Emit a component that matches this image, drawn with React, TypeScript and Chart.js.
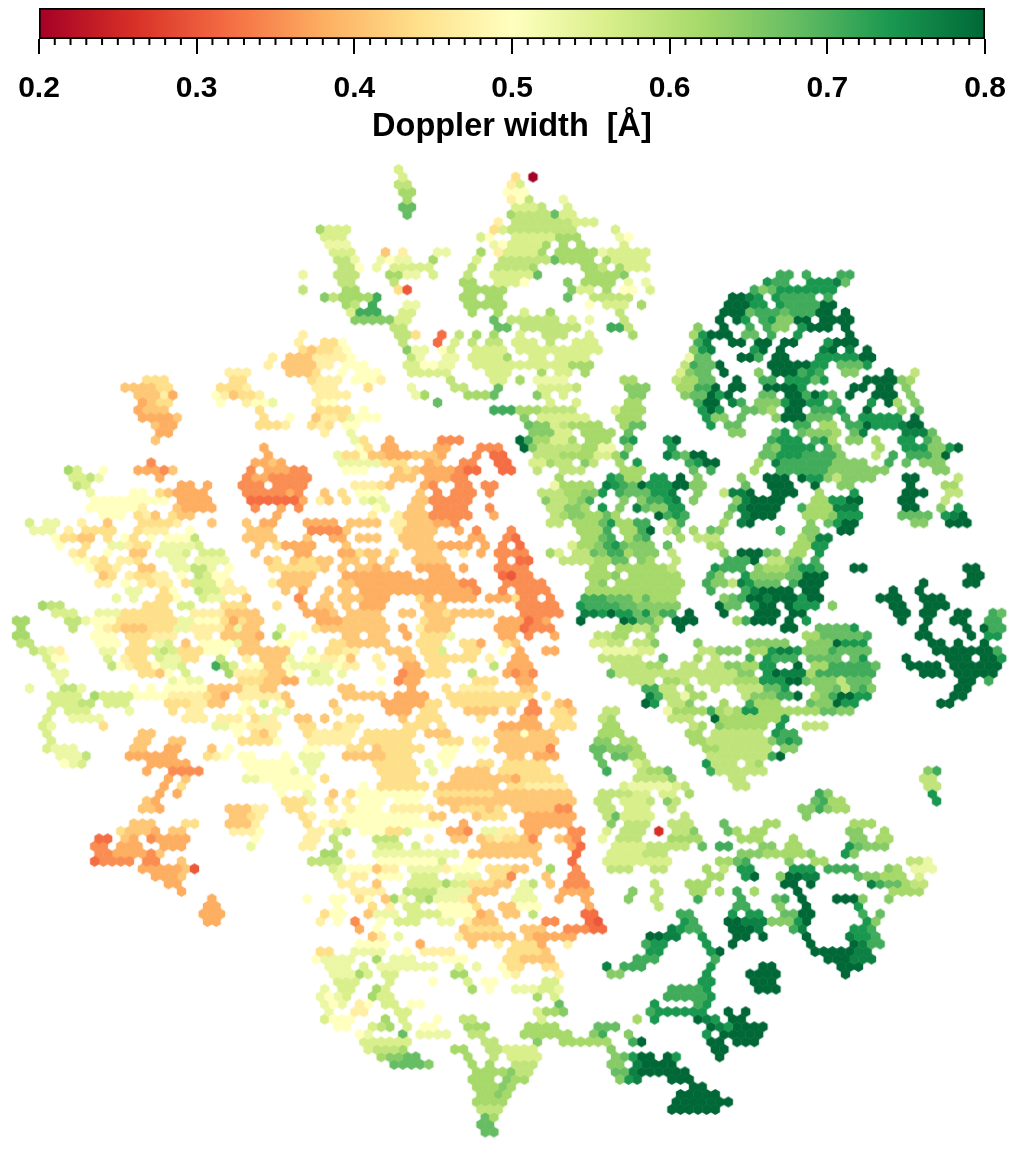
import React, { useEffect, useRef } from "react";
import { Chart, registerables } from "chart.js";

Chart.register(...registerables);

// Colour bar
const barLabel = ["Doppler width"];
const barRange: [number, number] = [0.2, 0.8];
const axisTitle = "Doppler width  [Å]";
const minorTickValues = [
  0.21, 0.22, 0.23, 0.24, 0.25, 0.26, 0.27, 0.28, 0.29, 0.31, 0.32, 0.33, 0.34, 0.35, 0.36, 0.37, 0.38, 0.39,
  0.41, 0.42, 0.43, 0.44, 0.45, 0.46, 0.47, 0.48, 0.49, 0.51, 0.52, 0.53, 0.54, 0.55, 0.56, 0.57, 0.58, 0.59,
  0.61, 0.62, 0.63, 0.64, 0.65, 0.66, 0.67, 0.68, 0.69, 0.71, 0.72, 0.73, 0.74, 0.75, 0.76, 0.77, 0.78, 0.79,
];
const colourStops = ["#a50026", "#d73027", "#f46d43", "#fdae61", "#fee08b", "#ffffbf", "#d9ef8b", "#a6d96a", "#66bd63", "#1a9850", "#006837"];

// Doppler width of each letter used in the cell rows below
const levelCodes = "abcdefghijklmnopqrst".split("");
const levelValues = [0.2, 0.26, 0.3, 0.32, 0.35, 0.38, 0.41, 0.44, 0.47, 0.5, 0.53, 0.56, 0.59, 0.62, 0.65, 0.68, 0.71, 0.74, 0.77, 0.8];

// Each entry: "row: col[-col]level ..." on the hexagonal bin grid
const topCells = [
  "-1: 44l", "0: 45l 58h 60a", "1: 44-45m 57i 58l", "2: 45-46n 57-59j", "3: 45n 57i 58j 59m 63k",
  "4: 45-46p 58-60l 61m 64l", "5: 45p 57n 58-61m 62p 63-64l", "6: 56i 58-64m 65-67l",
  "7: 35n 36-38l 55h 56l 57-64m 69l", "8: 36-38l 54l 55j 58-62l 63-65n 70k 71j",
  "9: 36-38k 55k 56j 57-60l 61n 63n 65n 70l", "10: 37-39l 43g 45i 49-50k 54n 56i 57-60l 61n 63-65n 66-67n 68k 69-73l",
  "11: 37-38m 39k 42k 43j 44-45k 48n 53l 56-61m 62p 63-66n 68n 69-72l",
  "12: 38-39m 40j 42k 44-46l 47-48l 53m 56-59m 60n 66-67n 68m 70n 71-73l",
  "13: 33k 37-39m 43-44n 45-46k 48l 52m 55l 56-59l 60p 66-69n 70o",
  "14: 38-39m 44m 52-53n 56-58l 59j 64o 66-69n 71k 73k",
  "15: 33m 38-39n 44h 45c 52n 53-56n 64o 65-66l 68n 70-71j 73l",
  "16: 36o 37m 38-41n 42q 52-53n 55-56n 64p 67-71m", "17: 38n 39m 41q 45-46k 52-56n 66j 68-70l 72n",
  "18: 39l 40-42q 45-46l 53n 56n 59l 62n 70m", "19: 39-43o 44-45l 55p 57-62m 64l 66k 70m",
  "20: 44-45m 56-57p 59-65m 69-70q 71m", "21: 33i 44-45m 46h 49d 51m 53n 55n 58l 61-63m 66l 71n",
  "22: 33h 36-37h 38j 45m 49d 51l 53m 55-56m 58-60l 62m 65-67l",
  "23: 33-34g 36-37h 38j 45o 46-47k 49j 50l 53-56l 58-61l 62-67l",
  "24: 33-34g 35i 38-39j 46m 47k 50-51k 53-56l 57n 60-61l 63-66l",
  "25: 33-35g 36i 38-40j 45-46l 47-48j 49-50k 53-58l 59-61l 62-63l 64-66n",
  "26: 33-35g 38j 40-42j 46-50l 55-57l 61n 63-64l 66n", "27: 34h 36-37i 39-41j 42i 50m 55-56l 58n 60-63k 70-71n",
  "28: 36-37h 41h 46k 51-52m 56p 61-64l 65m 71-73o", "29: 36-38i 46k 47n 52-54n 55p 60o 61l 63l 71-72o",
  "30: 35-37h 49p 62l 65l 71-72n", "31: 36-38h 40j 55-57q 58-60n 61-64m 69l 70-72n",
  "32: 35g 36-38h 39k 40j 41-42j 59o 61-66l 70-72n", "33: 36h 38-39j 59p 60-61o 62l 63m 64-67n 70n 71-72p",
  "34: 36i 39k 60-62o 63-64l 66-69n 71p", "35: 39k 40h 43f 49-51e 58t 59q 60-61n 62-63l 64n 66-68n 70q 71r",
  "36: 40j 41h 43-44f 49-50f 54e 55-56e 59t 60o 61-65m 66-67n 68-69k 71o",
  "37: 37k 38-39h 40j 41-42g 43-45f 46-47g 48g 49f 53e 55-56d 60-62m 63-66n 67-68l 69n 70q",
  "38: 38-42k 43-45h 48f 49g 52-53e 56-57d 60-61l 62n 63-64m 66o 67m 70n 72r",
];

const upperRightCells = [
  "13: 88-89q 91q 95-96q", "14: 87r 88-89q 92-94r 95s 96p", "15: 85q 86o 87p 88-94r",
  "16: 83-84t 85s 86r 88r 89-92q 94q", "17: 82-84t 85-86r 88r 89-92q 93-94t",
  "18: 82-84t 85p 86-88q 89p 90-92q 93-94t 96t", "19: 81t 83t 84r 86q 87r 88-89o 90-91t 93-96t",
  "20: 79o 82t 85q 87q 88-89o 91r 92-94t 96t", "21: 78n 79r 80-82t 84-85p 87q 90r 96t",
  "22: 79q 80s 83-84t 86-87t 89-90t 94r 95-97t", "23: 78o 79r 80s 85r 86t 88t 93s 94t 96s 98t",
  "24: 78k 79-80p 84-85t 86q 88-89t 93-97r 98-99t", "25: 77m 78q 79-80p 81t 87-91t 92-93r 95-97p 98r",
  "26: 77l 78o 79-80p 82t 86o 88-90t 91q 92r 93q 96-97o 101t 104m",
  "27: 76m 77-78n 79-80p 83t 86-87q 89-91r 92p 93r 98-101t 102o 103n",
  "28: 77-78n 79-80q 81t 83-84t 87-90t 91r 97-98t 100-101t 103o",
  "29: 77o 78-79p 80t 81r 82t 86-87p 89-90t 91q 92t 93r 94p 96t 99-101t 103o",
  "30: 79q 80-81t 83s 84q 86-88o 89r 90-91t 92-93r 95q 99r 101t 102n 104o",
  "31: 79r 80t 81r 84-85p 86o 87n 89-90t 92-94q 95r 98t 102o 104p",
  "32: 80r 81-82o 84p 88o 89-91t 92-94p 96q 98-102r 104t",
  "33: 80r 82-83p 90-91q 93-94n 96-97q 98t 99-101r 102s 103-104t",
  "34: 83-84o 88p 89r 91p 92-94o 95n 97p 98s 103-105s 106p",
  "35: 75r 76t 87q 88-90r 92q 93r 94n 96-97o 99n 102-103r 105q 106o",
  "36: 76r 87p 88o 89-92r 94q 95o 100n 103-105r 106-107o 108r 109t",
  "37: 75s 76q 77p 78-79t 86-87p 88-90r 91q 92-94q 95o 99m 101q 103-105q 106o 107t",
  "38: 78q 79r 80-81t 86n 88s 89-94q 95-98o 101q 103p 105-107o",
  "39: 60m 63-65m 70-72n 78p 80q 85n 88-94q 94-100o 106-107o",
  "40: 63n 69r 70q 71-72n 74-75r 77t 79o 84o 87-89t 91t 92-93r 94o 95m 96-99o 103-104t 109m",
  "41: 62k 63-65n 66n 68s 69r 70q 71p 72t 73-74r 75r 76-77t 78-79o 84p 87-89t 92t 95-96o 103t 107-108n",
  "42: 61m 62-63m 64-65n 66-67o 68r 70q 71-73p 74-75r 76s 79o 82m 83-84s 85t 88-90t 93n 97r 103-105t 108-109m",
  "43: 61o 62-63m 64n 65o 66q 70o 72o 73-74q 75r 76s 78o 83o 84s 85-88t 92-93n 94-95r 96-97t 102-103t 107m",
  "44: 62-63m 64-65o 66n 68r 70o 72s 73p 74o 75o 76r 77r 83p 84s 85-88t 91q 92-94n 95-97s 103-104t 107o 109r",
  "45: 62m 63n 64-65o 66n 67n 68p 69n 74t 75q 76r 77q 82o 84s 85-87t 91-93n 94o 95-97r 102-105p 107r 108s 109t",
  "46: 62-63m 65n 66-67n 68p 69r 70-71n 72-73q 76n 77q 82n 84s 85t 92o 94p 95r 96-97t 104-105o 108-110t",
  "47: 65-67n 68q 70-71n 72q 73t 75m 76o 78n 80p 81o 88q 91-92o 95-96t",
  "48: 66-67n 68p 69q 71n 72p 73q 77n 79-81m 91n 92o 93-94s",
  "49: 64l 65-66n 67o 68q 69r 70p 71-73o 75p 80-81n 90-91n 92-93r",
  "50: 62n 63l 65-66m 67p 68o 69-70q 71n 72-74o 76m 82o 84-86t 87p 88o 90-91n 93r",
  "51: 63-66m 67-68n 69-70p 72o 73n 76m 82-84q 85t 87-88m 89o 90p 92q",
  "52: 67-68n 70n 71-76n 76m 81r 82-84q 86o 87-89n 90p 91-92r 93q 97-98t 110-111t",
  "53: 66-68n 69o 71-76n 80q 81o 84r 85-88o 89-90p 91-93t 111t",
  "54: 67n 68o 70-77n 80q 81-82o 83m 84s 85r 86-88p 90q 91-93t 105s 110t",
];

const middleRightCells = [
  "52: 110-111t", "53: 110t", "54: 105t 111t", "55: 66-70n 71-76n 80q 84q 85s 86-87t 88-89t 91-92t 101t 104t",
  "56: 66-68q 69-71p 72n 73p 74-76n 82o 83p 84q 85-86t 87s 88-89t 90t 91r 92-93t 100-102t 105-107t",
  "57: 65r 66-68q 69q 70-71p 72-73o 74-76o 81t 82-83p 85r 86-87t 89t 90-92r 94o 101-102t 105-107t",
  "58: 66-67s 68r 69t 70-71r 72p 73r 74o 75-76q 78t 82t 86-88t 90-91t 102-103t 105-106t 109-110t 113q 114p",
  "59: 65t 70t 71s 72-73p 74n 76-78t 83n 84q 85-87t 89t 91r 102t 105t 108-109t 112-113q",
  "60: 70n 71q 71-73n 72-73m 74o 77t 89-90t 93-96p 97r 105t 110t 112t 113-114q",
  "61: 67-70m 73n 69-70n 73n 91-92n 93-97p 98q 104-105t 110t 112-113r",
  "62: 67-68l 69-70m 72-73m 74o 79o 85o 86-89o 92-94o 95t 96-98r 106-107t 109t 112t",
  "63: 68-71k 72-73l 79-80m 81-83o 85-86n 87r 88-89s 90r 91-93o 94q 95-98p 106-107t 108-110t 111-112t 113q",
  "64: 68m 69-72m 75p 79n 81m 85q 87r 88-90q 92-95p 97p 98r 103t 108-110t 112-113t 114r",
  "65: 69-72m 73-74n 77-78m 80-81m 82-83o 84-85n 86-87r 90t 92-93n 94-98q 99p 103-106t 108-113t",
  "66: 69p 70-73m 74m 75-83m 84-85o 87r 88t 89-91s 92n 93-98q 99q 105-107t 109-113t",
  "67: 71-73m 75-76n 77m 79-82m 83-86n 86-88r 89-90t 91p 92-94o 95m 96-98p 109-110t 112q",
  "68: 73-74q 75-76m 78n 81m 84-86m 87-88p 89r 93-94o 95p 96m 97p 98q 99o 109-110t",
  "69: 73s 74q 75-76m 77k 78-79n 84m 85-88o 88-89q 90t 92n 93o 94q 95-96t 97-98r 108-109t",
  "70: 73t 74r 76m 77m 78o 82n 85q 86-88n 92p 93-94o 95t 96-97r 107-108t",
  "71: 75k 76-78n 79n 80q 81n 82m 83n 84-85r 86-88n 89-91n 92n 93-94p 95-96o",
  "72: 76m 77-78m 81t 82-86n 87-88n 89r", "73: 78m 79n 81o 82-86n 88r 91-93m",
  "74: 78-79n 81-86m 88r 89-90q", "75: 78-79n 80-86m 87o 88q 89r 90q", "76: 80-81n 82-87m 89-90o",
  "77: 80-86m 87q 88t", "78: 80r 81-83m 85m 86n", "79: 80q 81-86m 105o 106q", "80: 83-84m 105-106m",
];

const greenLowerCells = [
  "71: 68-69m", "72: 68m 69n", "73: 68-69n", "74: 68-69n 70n", "75: 67-68o 70-71n", "76: 67-68p 69-71o 72n",
  "77: 67p 69-70p 71-72n", "78: 68p 72l 73m", "79: 68q 72m 73-74n 75p", "80: 72-75m 76o",
  "81: 70-76l 71-75k 77m 83-84m 105-106m", "82: 68-69m 70-71m 72-73l 75-76l 68m 78n 93q 94o 106r",
  "83: 67-68m 70-72l 73m 75o 76m 92p 93q 94-95n 106r", "84: 68-69m 71-73l 76m 91-92o 93q 94o 95-96n",
  "85: 68m 69p 70-73l 77m 91o", "86: 69o 71-73m 76m 77-78m 82p 87-88n 97-99n",
  "87: 68l 70-72m 74b 76-77m 78o 82p 83n 85-86n 96-97o 100n",
  "88: 68k 70-72m 76-79n 84-85n 86n 90n 97-98o 100-101n",
  "89: 69-72l 73-74m 75-77m 79p 81-82q 86-87o 89-90n 96r 97p 98-100o",
  "90: 69-72l 73-75m 84-86o 87n 88-91n 92o 96r 97o", "91: 68-75l 81-82n 83p 84q 89o 92-93n 103m 104m 105k",
  "92: 69-71m 74-75m 80n 82m 84-85r 90-92r 94-97q 101o 102n 104-106k",
  "93: 80-81n 84r 85t 88o 89-90t 91-92s 97p 98-99o 100-101n 102n 104l",
  "94: 74m 78n 79-80n 89-90t 92t 99s 100q 101-102p 103n 104-105m", "95: 71o 74m 78-79n 81n 83q 85n 90t 101-104n",
  "96: 71o 74m 79q 84q 88p 89q 91t 95-97t 98o 101o", "97: 74m 83-84q 88o 91t 97r",
  "98: 77-78q 83r 85-86r 89-90p 91-92t 98q 100p", "99: 77r 78q 82-83t 84-86s 87-89o 90r 91t 98r 99o",
  "100: 76s 77r 78-79q 83-85t 86s 90q 91s 97-98r 99q", "101: 73-74t 75-76s 79r 83-84t 86t 91t 96s 97-98r 99q",
  "102: 73q 74-75r 80r 83t 92t 97t 98s 99-100q", "103: 73-74r 80r 81t 92-96t 97-98s",
  "104: 72-74q 81q 94-96t 97-99s", "105: 68s 70-72q 80r 86-87t 95-97t", "106: 69-70o 80r 85-88t 96t",
  "107: 79-80r 85-87t", "108: 76-79q 80r 86-88t", "109: 75-79q 80r", "110: 74r 79q 80r",
  "111: 73q 74-79r 82t 84t", "112: 72n 74r 79t 80s 81r 83-84t", "113: 67-69o 80t 81s 82r 83-86t",
  "114: 67-68n 71o 80r 82-86t", "115: 67-68m 71q 72t 80-81t 83-85t", "116: 69o 81-82t", "117: 69o 70p 71r 72-73t 75t 76r 81t",
  "118: 69-70o 72s 73-76t", "119: 69-70p 71s 72-77t", "120: 70o 71r 72s 76-78t", "121: 78-79t",
  "122: 77-81t", "123: 76-82t", "124: 76-81t",
];

const leftUpperCells = [
  "22: 33i", "23: 33h 35-36h 37i", "24: 30i 32-34g 36-38i", "25: 29i 31-34g 35i", "26: 25-27i 32-34g 35h",
  "27: 15-17h 25-26h 34h 35i", "28: 13-14g 15g 16g 17-18h 24-26h 27i 35i 36-37i",
  "29: 14-16g 17i 18f 23j 24i 25g 26-27h 28i 35-37i", "30: 15f 16g 17-18h 24j 27i 28-29j 30k 35i 36-37j",
  "31: 14f 15-17g 28h 35-37h", "32: 15f 16-18f 19g 29h 32j 36-37i", "33: 16g 17-18f 28-30h 31i 34h 35i",
  "34: 17-18f 36i", "35: 16g", "36: 29f", "37: 29f 37k", "38: 16e 28-29f 30g 31f 38k",
  "39: 6n 7l 10j 14-16f 17e 18g 27e 29-31f 32-33e", "40: 7-8l 9m 10k 17f 27e 28-29f 30-34e",
  "41: 7m 8l 19-20f 22f 26-28e 30-32e 33e", "42: 9k 14-15j 17h 18g 19-22f 27-31e 32f 33e 36g",
  "43: 9-17j 19-22f 27-32d 33f 35i 36g", "44: 9j 10-13j 14j 15i 19g 20-23f 28e 31f 33e",
  "45: 10-12j 14h 15i 16g 18h 19-20g 30f", "46: 2l 4-5k 8i 11g 15-18h 19i 23g 27g 29-30f 34-37f",
  "47: 2-4k 6i 8-11h 14h 15-16i 17i 20j 27-29g 34-37e", "48: 5j 6-7h 8-9g 11h 13j 14h 16j 18-20j 21m 27-28g 29-30g 34g",
  "49: 5j 8h 11-12k 13i 14-15h 17-20k 21l 28g 30h 31-33f 34f", "50: 7i 8h 11j 14-15g 17-19k 20l 22-24l 28g 33-34f",
  "51: 7-8j 9i 10h 12-13i 14h 18-19k 21-24k 29g 30h 32g 33-34h 35-36g",
  "52: 9j 10-11h 12i 15-16g 19-20k 21-22m 23k 25j 30h 31-35h 36g",
  "53: 10g 11h 13i 14-15h 16-17i 19j 21m 22l 23-24j 31g 32-34g",
  "54: 10-11i 13j 15i 16h 17-18i 20h 21-23l 24j 25i 30i 31g 32-33g 34g",
  "55: 13-14k 17h 18j 21m 22-23l 24-26i 31g 33f 36g", "56: 12k 14k 17-18h 19j 22l 23-24k 27g 33e 36g",
];

const leftLowerCells = [
  "57: 3n 4-5m 15-17h 19-20l 24-26h 30h 33f 35-36g", "58: 5-7l 10-12k 13-15h 16-18h 21-24i 25-28g 34-36f 37g",
  "59: 0-1n 6-7m 8k 9-11j 12-14h 15-18h 19-20k 21-23j 24h 25f 26h 27-28g 35-37f",
  "60: 1n 7m 10j 11i 12h 13-15g 16-18h 19-20k 21-24i 25g 26k 27-28g 31l 35h 36-37g",
  "61: 0-1n 9-11j 13-15h 16-18i 21-22i 24-25g 26-27g 28f 30n 32-33j",
  "62: 1-2m 10-11j 12j 14-15h 17k 18l 20g 22j 23-25j 26k 27-28g 31-32j 37h",
  "63: 2m 3l 4k 5i 10-11k 13-15h 16l 17m 18l 19-21h 22-24j 26-27g 28-31g 34k 36-37h",
  "64: 4l 5-6j 11l 13i 14-15h 17l 18-19k 20-21h 24m 27i 29-31g 32k 34-35j 36-37i",
  "65: 4l 11m 12j 13i 14-15h 16j 17-18k 19l 23q 24n 25l 27-28j 29-30g 31j 32-33k 34-36k 37j",
  "66: 5-6k 15-16h 17g 18j 20l 25n 26-28i 29h 30-31g 32j 35l 36k", "67: 5k 18k 19j 20-21k 26-28h 29-30g 31-32f 34-36k",
  "68: 2k 6-7m 8k 14j 16j 18-22j 23-26g 27-28i 29-30g", "69: 4-7l 9n 10l 11-13l 14-17j 18-21i 22h 23g 24f 26-28i 29-30i 31g",
  "70: 5-7l 8-9m 11-13l 18-20h 21-22i 23-24g 27j 29l 31j 32g 37g", "71: 4l 6l 7-8l 13k 18h 20-21i 26j 27i 30-31k 37h",
  "72: 4l 7-10k 20-22i 24-26i 28h 29k 30i 33-34g 36g", "73: 3l 4k 10h 23-24k 25-26j 27-28i 29-30i 33-34h 37h",
  "74: 4l 15-16g 26j 28h 29g 30i 34h 35-38i", "75: 4l 14-15g 18-19g 26-29h 30j 34-37i",
  "76: 4l 5k 6-7k 14-15g 18-19f 23g 25j 34-35j", "77: 5-7k 8m 13f 14-18f 22h 23i 24j 26-27j 31j 33-35k",
  "78: 6j 7k 8l 16-18f 19-20f 27-32j 34-35k", "79: 15f 18-20e 21e 27-31j 32k 34k", "80: 18f 20g 27-28k 29-34j 36h",
  "81: 17f 19h 30-34j", "82: 17f 19f 31j 34k 37g", "83: 15g 16f 31-33h 34k 36h", "84: 15-16g 17f 25-27g 28-29i 32-33h 37i",
  "85: 25-26g 27h 28i 33i", "86: 14g 15-16g 20-21h 25g 26-27g 28i 34i 36j", "87: 12h 13g 14-15g 16f 18-19g 25-27i 28j 34-35i 37k",
  "88: 10-11d 13g 14f 16e 17-20f 28j 34-35j 37m", "89: 9-10e 12-14f 17-19f 27k 33-34j 37n", "90: 10-11e 12-15f 16e 17g 36-37n",
  "91: 9d 10-13e 15-16e 19g 34-37m", "92: 15-16f 17-19f 20g 21c", "93: 16-18f 19g", "94: 18-19f", "95: 19f",
  "96: 23f 34j 37j", "97: 22-23f", "98: 22-24f 36h 37j", "99: 22-23f 35j 37j",
];

const centreCells = [
  "39: 38-40j 44g 45h 46g 47-50f 51e 52-53d 56-57d", "40: 44-46g 48-50f 51-52e", "41: 39-41i 42h 43g 47f 48e 51-52e 54-55e",
  "42: 38h 40-42j 47g 49e 51-53e 55e", "43: 38h 40k 41l 42k 46-47g 48-52e", "44: 42j 43k 46-47g 49-52e 55e",
  "45: 41i 44i 45-47g 48-50e 51-52e 55f", "46: 39-42g 44-45i 46-48g 49-50f 51e", "47: 38g 44i 45-48g 51f 53e 57e",
  "48: 37-38f 40-42g 45g 46-48g 53-54f 57e 58d", "49: 38g 45-48g 49-52f 54f 56e 58d",
  "50: 38-39f 40h 41-42g 44h 47-49g 52h 54f 56-57e 58-59e", "51: 38-39g 41g 43g 46-49g 56e 58-59d",
  "52: 38g 40-41g 42f 43g 47-50f 52f 56-59e", "53: 38-39f 40-45f 48-50f 56d 57c 58-59e",
  "54: 38-39g 40-46f 47-48f 49-51f 52-53e 57-61e", "55: 38g 40-45f 46-49f 50-52f 53e 56e 58-61e",
  "56: 38-40g 41-43f 47h 48f 50-53f 55-57f 58h 59-60e 62e", "57: 38g 40-42f 47-49g 58-62e",
  "58: 39-42g 45-46g 48-49g 50h 51-55g 59-63e", "59: 38-42g 47h 48-50g 56-58f 59d 60e 61f",
  "60: 38-40g 41-43g 45f 47i 48-50g 56-58f 59d 60-62e", "61: 38-39g 41-42g 45f 47-49h 50k 56-57f 59e 62f",
  "62: 38h 39-43g 47-49h 52-53h 54f 57h 58g", "63: 38-39i 43-45g 47h 48h 49l 52-53h 56j 58f 61-62f",
  "64: 38j 39g 42i 45-46g 48-51h 52-53h 55i 58-59f", "65: 38-39i 42i 45-46f 48-49h 55m 57f 58-59f",
  "66: 38k 45e 46-47f 48-50h 53m 57f 58e 59f 60e", "67: 42j 44e 45-46f 53-55h 58-59f",
  "68: 38-39g 46f 50h 52-55i 59-60g", "69: 38-42g 44-47f 50-59h 61h", "70: 43-47f 48-49h 51-58h 60e 63g 64f",
  "71: 43-45f 47-48h 52-55g 57g 59-60e 62-63h 64g", "72: 39-40h 45g 47-49h 54h 59-60f 63-64h",
  "73: 38-39i 45-47h 49h 56-60f 62-64h", "74: 38-39i 41-46h 48-50g 56-58g 59j 60-62g", "75: 38i 40-45h 49-51h 53-54i 56-62g",
  "76: 39-40h 42g 43-47h 50-51j 54j 56-61g 62e", "77: 38-40g 41-42g 43-45h 49-50j 57-58g 60-62f",
  "78: 42-46h 48k 50j 54-55h 57-61h", "79: 42-46h 48k 51-54g 56-61h", "80: 43-46h 51-57g 58f 59-63h",
  "81: 40j 42-47h 49-55g 57-58h 59-63i", "82: 39h 40-47j 49-55h 56-64g", "83: 38i 40-42j 44-46j 49-64g",
];

const bottomCells = [
  "84: 37i 39i 40-42j 44-48i 51g 52-54h 55g 56h 58-62g 63-64e", "85: 33h 34i 38-46j 48-49g 53g 54-56h 59f 60-64f",
  "86: 34h 37-38i 39-47j 48-49j 52f 59-64f", "87: 34i 37l 38m 40-42j 43-44h 45l 50-51f 52e 54-55k 56-57i 59-60f 64-65e",
  "88: 34-35i 37m 42-44m 48i 51-52g 54g 55h 56i 57-58h 59g 60e 63g 64f 65e", "89: 33-34i 37m 42-44l 46l 54-60g 64f 65d",
  "90: 36-37n 39i 42-48k 49-51k 53-60g 65d", "91: 34-37m 42-48j 49l 52-53j 60g 64d",
  "92: 37l 38k 39-41j 42g 43-44i 46-49k 50i 51-53j 55-57h 58-59g 62n 65e",
  "93: 37k 39-40i 42-44j 46-48l 51-53k 55-56h 57e 61g 64-65e", "94: 38-39i 42g 46-49l 50n 51-52l 53-55h 56-57g 59k 60m 62g 64-66e",
  "95: 39-42i 45-48m 49-52k 53-55g 58-59k 63-66f", "96: 34j 37-38j 40h 41j 43g 44n 45k 47m 48n 49-51k 52i 53g 58-60k 63f 66f",
  "97: 37j 41h 43i 45-46l 49-52j 53h 56-57g 58-60j 66f", "98: 36h 37-38j 41g 42-44k 46-49l 50-53j 54f 55g 57-58g 60m 66-67d",
  "99: 35i 37j 39e 42j 44-46l 49-50k 52i 53-55g 61-62e 66d 67c", "100: 40f 42j 52g 53-56h 59-61g 64-66e 67-68d",
  "101: 41g 42i 44k 51i 52-57g 59g 60-61f 62-64f", "102: 40-43j 47f 53g 56i 58-60h 61f 64i", "103: 35-36h 39-42k 45j 47-50i 57-60h 61g",
  "104: 35j 36-39k 42n 44-46k 50-52j 57-58h 59-62g", "105: 36-38k 40l 42-44k 45-48k 51l 53k 56j 57-58h 61-62h",
  "106: 37-39k 40n 41l 43-44l 51-52n 57j 58i 63i", "107: 37-39l 43l 48j 52l 54-55j 61-62l",
  "108: 36k 38-39l 42n 43l 53n 55j 58-60k 61-62l 63k", "109: 35k 36j 37k 38l 41n 42-43l 60n 62l",
  "110: 36k 37j 38k 40i 41j 43-44l 46-47j 63p", "111: 36k 39-40i 44-45l 60l 61-62n 63o", "112: 36l 37-39j 43n 45l 49j 52-53m 61l",
  "113: 37-38j 41l 42m 43n 45l 47-48j 52n 53-54n 59-62n 67-69p", "114: 40j 41k 45p 47-50k 53-54m 59-62n 63-64n 67o 68q",
  "115: 40-45l 54-55m 60o 63-64n 65-68n", "116: 41l 42-44m 45n 51-52n 55-56m 57-60l 69o", "117: 42n 43-44o 45-46p 52n 55m 57-60l",
  "118: 44p 45-47p 48o 53n 55n 58-60m", "119: 53-56n 57o 58-59m", "120: 53-55n 57o 58-59n", "121: 53-55n 56o 57n",
  "122: 54-55n 56o 57n", "123: 53-56n", "124: 54-56m", "125: 54p 55n", "126: 54-55p", "127: 54-55p",
];

// Axis limits of the bin grid
const gridColRange = [-1.4055, 116.57];
const gridRowRange = [-23.54, 131.25];

const cellRegions = [topCells, upperRightCells, middleRightCells, greenLowerCells, leftUpperCells, leftLowerCells, centreCells, bottomCells];

function hexToRgb(h: string) {
  return [parseInt(h.slice(1, 3), 16), parseInt(h.slice(3, 5), 16), parseInt(h.slice(5, 7), 16)];
}

function colourFor(value: number) {
  const t = Math.max(0, Math.min(1, (value - barRange[0]) / (barRange[1] - barRange[0]))) * (colourStops.length - 1);
  const i = Math.min(colourStops.length - 2, Math.floor(t));
  const a = hexToRgb(colourStops[i]);
  const b = hexToRgb(colourStops[i + 1]);
  const f = t - i;
  return `rgb(${a.map((v, k) => Math.round(v + (b[k] - v) * f)).join(",")})`;
}

function hexSprite(colour: string) {
  const c = document.createElement("canvas");
  c.width = 13;
  c.height = 13;
  const g = c.getContext("2d")!;
  g.fillStyle = colour;
  g.beginPath();
  const R = 5.4;
  for (let k = 0; k < 6; k++) {
    const ang = Math.PI / 2 + (k * Math.PI) / 3;
    const x = 6.5 + R * Math.cos(ang);
    const y = 6.5 + R * Math.sin(ang);
    if (k === 0) g.moveTo(x, y);
    else g.lineTo(x, y);
  }
  g.closePath();
  g.fill();
  return c;
}

function parseCells() {
  const cells = new Map<string, { x: number; y: number; code: string }>();
  for (const region of cellRegions) {
    for (const entry of region) {
      const [rowText, spans] = entry.split(":");
      const row = parseInt(rowText, 10);
      const odd = Math.abs(row % 2) === 1;
      for (const token of spans.trim().split(/\s+/)) {
        const m = token.match(/^(\d+)(?:-(\d+))?([a-t])$/);
        if (!m) continue;
        const from = parseInt(m[1], 10);
        const to = m[2] ? parseInt(m[2], 10) : from;
        for (let c = from; c <= to; c++) {
          cells.set(`${row}/${c}`, { x: c + (odd ? 0.5 : 0), y: row, code: m[3] });
        }
      }
    }
  }
  return Array.from(cells.values());
}

const font = "'Liberation Sans', Arial, sans-serif";

export default function App() {
  const barRef = useRef<HTMLCanvasElement>(null);
  const mapRef = useRef<HTMLCanvasElement>(null);

  useEffect(() => {
    const cells = parseCells();
    const mapChart = new Chart(mapRef.current!, {
      type: "scatter",
      data: {
        datasets: levelCodes.map((code, i) => ({
          label: String(levelValues[i]),
          data: cells.filter((c) => c.code === code).map((c) => ({ x: c.x, y: c.y })),
          pointStyle: hexSprite(colourFor(levelValues[i])),
          pointRadius: 5,
          pointHoverRadius: 5,
        })),
      },
      options: {
        animation: false,
        responsive: false,
        events: [],
        layout: { padding: 0, autoPadding: false },
        plugins: { legend: { display: false }, tooltip: { enabled: false } },
        scales: {
          x: { type: "linear", display: false, min: gridColRange[0], max: gridColRange[1] },
          y: { type: "linear", display: false, reverse: true, min: gridRowRange[0], max: gridRowRange[1] },
        },
      },
    } as any);

    const minorTicks = {
      id: "minorTicks",
      afterDatasetsDraw(chart: any) {
        const { ctx, scales, chartArea } = chart;
        ctx.save();
        ctx.strokeStyle = "#000";
        ctx.lineWidth = 2;
        for (const v of minorTickValues) {
          const px = scales.x.getPixelForValue(v);
          ctx.beginPath();
          ctx.moveTo(px, chartArea.bottom);
          ctx.lineTo(px, chartArea.bottom + 6);
          ctx.stroke();
        }
        ctx.restore();
      },
    };

    const barChart = new Chart(barRef.current!, {
      type: "bar",
      data: {
        labels: barLabel,
        datasets: [
          {
            data: [barRange],
            backgroundColor: (ctx: any) => {
              const area = ctx.chart.chartArea;
              if (!area) return "#fff";
              const g = ctx.chart.ctx.createLinearGradient(area.left, 0, area.right, 0);
              colourStops.forEach((c, i) => g.addColorStop(i / (colourStops.length - 1), c));
              return g;
            },
            borderColor: "#000",
            borderWidth: 2,
            borderSkipped: false,
            categoryPercentage: 1,
            barPercentage: 1,
          },
        ],
      },
      options: {
        indexAxis: "y",
        animation: false,
        responsive: false,
        events: [],
        layout: { padding: { left: 39, right: 39, top: 8, bottom: 0 }, autoPadding: false },
        plugins: { legend: { display: false }, tooltip: { enabled: false } },
        scales: {
          x: {
            type: "linear",
            min: barRange[0],
            max: barRange[1],
            afterFit: (s: any) => {
              s.height = 111;
            },
            border: { display: false },
            grid: { drawOnChartArea: false, drawTicks: true, tickLength: 15, color: "#000", lineWidth: 2 },
            ticks: {
              stepSize: 0.1,
              color: "#000",
              padding: 17,
              maxRotation: 0,
              autoSkip: false,
              font: { family: font, size: 30, weight: "bold" },
              callback: (v: any) => Number(v).toFixed(1),
            },
            title: {
              display: true,
              text: axisTitle,
              color: "#000",
              padding: { top: 0, bottom: 3 },
              font: { family: font, size: 32.5, weight: "bold" },
            },
          },
          y: { display: false },
        },
      },
      plugins: [minorTicks],
    } as any);

    return () => {
      mapChart.destroy();
      barChart.destroy();
    };
  }, []);

  return (
    <div style={{ position: "absolute", left: 0, top: 0, width: 1024, height: 1164, background: "#fff" }}>
      <canvas ref={mapRef} width={1024} height={1164} style={{ position: "absolute", left: 0, top: 0 }} />
      <canvas ref={barRef} width={1024} height={150} style={{ position: "absolute", left: 0, top: 0 }} />
    </div>
  );
}
